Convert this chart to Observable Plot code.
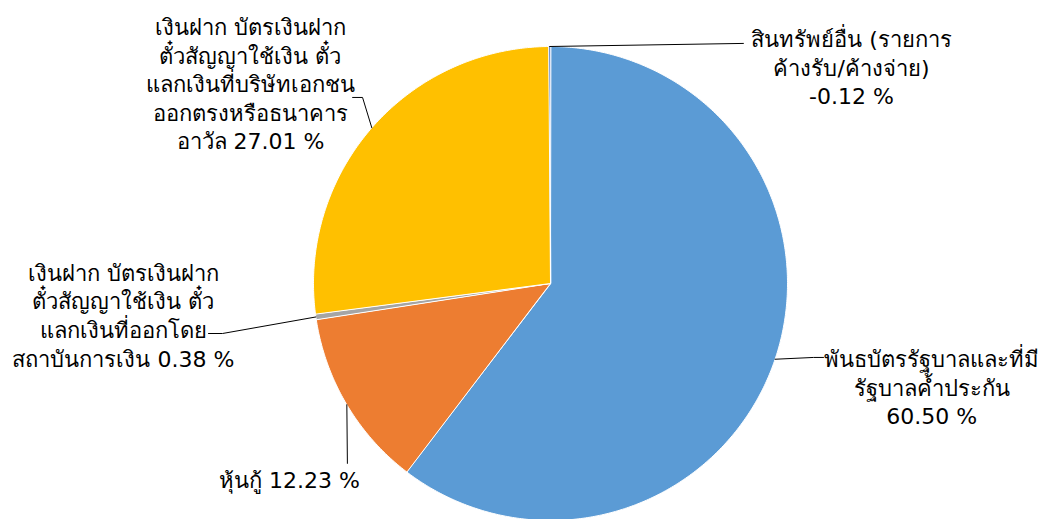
<!DOCTYPE html>
<html>
<head>
<meta charset="utf-8">
<script src="https://cdn.jsdelivr.net/npm/d3@7"></script>
<script src="https://cdn.jsdelivr.net/npm/@observablehq/plot@0.6"></script>
<style>
  html, body { margin: 0; padding: 0; background: #fff; overflow: hidden; }
  #chart { width: 1050px; height: 519px; }
</style>
</head>
<body>
<div id="chart"></div>
<script>
// ---- data ----
const categories = [
  "พันธบัตรรัฐบาลและที่มี\nรัฐบาลค้ำประกัน",
  "หุ้นกู้",
  "เงินฝาก บัตรเงินฝาก\nตั๋วสัญญาใช้เงิน ตั๋ว\nแลกเงินที่ออกโดย\nสถาบันการเงิน",
  "เงินฝาก บัตรเงินฝาก\nตั๋วสัญญาใช้เงิน ตั๋ว\nแลกเงินที่บริษัทเอกชน\nออกตรงหรือธนาคาร\nอาวัล",
  "สินทรัพย์อื่น (รายการ\nค้างรับ/ค้างจ่าย)"
];
const values = [60.50, 12.23, 0.38, 27.01, -0.12];
const colors = ["#5B9BD5", "#ED7D31", "#A5A5A5", "#FFC000", "#4472C4"];

// ---- layout (label placement, in pie-radius units) ----
const percentSeparator = ["\n", " ", " ", " ", "\n"];
const labelPos = [[1.608, -0.435], [-1.101, -0.823], [-1.802, -0.131], [-1.266, 0.846], [1.270, 0.916]];
const leaderBends = [
  [[1.110, -0.312], [1.152, -0.312]],
  [[-0.857, -0.759]],
  [[-1.384, -0.211], [-1.443, -0.211]],
  [[-0.793, 0.785], [-0.835, 0.785]],
  [[0.814, 1.013]]
];

const W = 1050, H = 519, R = 237, CX = 550, CY = 283;

const arcs = d3.pie().sort(null).value(d => Math.abs(d))(values);

const slicePts = [];
arcs.forEach((a, i) => {
  slicePts.push({name: categories[i], x: 0, y: 0});
  const n = Math.max(2, Math.ceil((a.endAngle - a.startAngle) / 0.01));
  for (let k = 0; k <= n; k++) {
    const t = a.startAngle + (a.endAngle - a.startAngle) * k / n;
    slicePts.push({name: categories[i], x: Math.sin(t), y: Math.cos(t)});
  }
});

const leaderPts = [];
arcs.forEach((a, i) => {
  const m = (a.startAngle + a.endAngle) / 2;
  leaderPts.push({id: i, x: Math.sin(m), y: Math.cos(m)});
  leaderBends[i].forEach(p => leaderPts.push({id: i, x: p[0], y: p[1]}));
});

const labels = categories.map((c, i) => ({
  x: labelPos[i][0], y: labelPos[i][1],
  text: c + percentSeparator[i] + values[i].toFixed(2) + " %"
}));

const plot = Plot.plot({
  width: W, height: H,
  margin: 0,
  x: {domain: [-CX / R, (W - CX) / R], axis: null},
  y: {domain: [-(H - CY) / R, CY / R], axis: null},
  color: {domain: categories, range: colors},
  style: {background: "#fff", fontFamily: "Tahoma, 'DejaVu Sans', 'Noto Sans', sans-serif"},
  marks: [
    Plot.line(slicePts, {x: "x", y: "y", z: "name", fill: "name", stroke: "#fff", strokeWidth: 1, curve: "linear-closed"}),
    Plot.line(leaderPts, {x: "x", y: "y", z: "id", stroke: "#000", strokeWidth: 1}),
    Plot.text(labels, {x: "x", y: "y", text: "text", textAnchor: "middle", lineAnchor: "middle",
      fontSize: 22, lineHeight: 1.3, fill: "#000"})
  ]
});
document.getElementById("chart").appendChild(plot);
</script>
</body>
</html>
